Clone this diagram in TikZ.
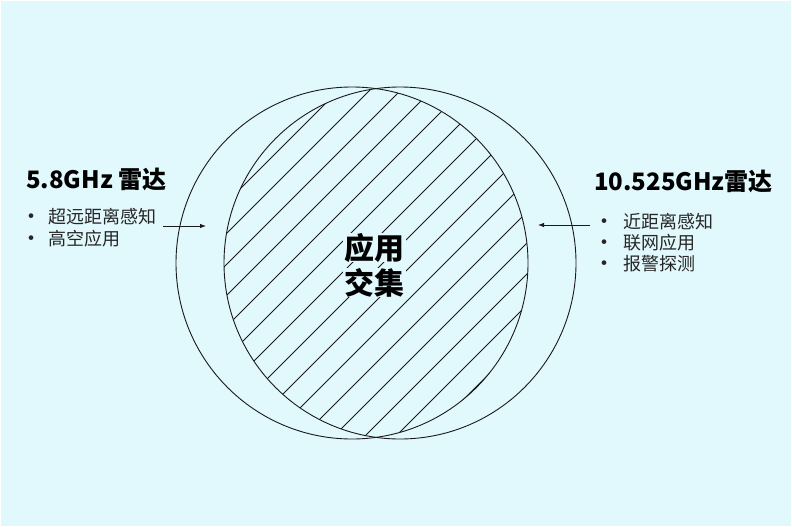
\documentclass[tikz,border=0pt]{standalone}
\usepackage{fontspec}
\setmainfont{Noto Sans CJK SC}
\usetikzlibrary{arrows.meta}
\definecolor{bg}{HTML}{E1F8FC}
\definecolor{ink}{HTML}{1A1A1A}
\tikzset{
  ring/.style={draw=ink, line width=0.9pt},
  hatch/.style={draw=ink, line width=0.8pt},
  title/.style={font=\fontsize{24}{27}\selectfont\bfseries, anchor=base west, inner sep=0pt, text=black},
  item/.style={font=\fontsize{18}{20}\selectfont, anchor=base west, inner sep=0pt, text=black!85},
  dot/.style={font=\fontsize{22}{24}\selectfont, anchor=base, inner sep=0pt, text=black!85},
  center/.style={font=\fontsize{30}{34}\selectfont\bfseries, anchor=base, inner xsep=1.5pt, inner ysep=0pt, text=black, fill=bg}
}
\tikzset{pointer/.style={draw=ink, line width=0.8pt, -{Latex[length=6pt,width=4.5pt]}}}
\begin{document}
\begin{tikzpicture}[x=1pt,y=-1pt]
\fill[white] (0,0) rectangle (792,527);
\fill[bg] (1,1) rectangle (791,526);
\useasboundingbox (0,0) rectangle (792,527);
% hatching in the lens
\begin{scope}
  \clip (352,263) circle (176);
  \clip (400,263) circle (176);
  \foreach \k in {0,...,15} {
    \pgfmathsetmacro\c{429+31*\k}
    \draw[hatch] (\c-500,500) -- (\c,0);
  }
\end{scope}
\draw[ring] (352,263) circle (176);
\draw[ring] (400,263) circle (176);
% centre label
\node[center] (c1) at (374,259) {应用};
\node[center] (c2) at (374,294) {交集};
% left block
\node[title] (lt) at (26,188) {5.8GHz 雷达};
\node[dot] (ld1) at (31,224) {•};
\node[item] (li1) at (48,223) {超远距离感知};
\node[dot] (ld2) at (31,246) {•};
\node[item] (li2) at (48,245) {高空应用};
% right block
\node[title] (rt) at (594,190) {10.525GHz雷达};
\node[dot] (rd1) at (604,229) {•};
\node[item] (ri1) at (623,228) {近距离感知};
\node[dot] (rd2) at (604,250) {•};
\node[item] (ri2) at (623,249) {联网应用};
\node[dot] (rd3) at (604,271) {•};
\node[item] (ri3) at (623,270) {报警探测};
% pointers
\coordinate (la) at (163,226);
\coordinate (lb) at (206,226);
\coordinate (ra) at (590,225);
\coordinate (rb) at (538,225);
\draw[pointer] (la) -- (lb);
\draw[pointer] (ra) -- (rb);
\end{tikzpicture}
\end{document}
